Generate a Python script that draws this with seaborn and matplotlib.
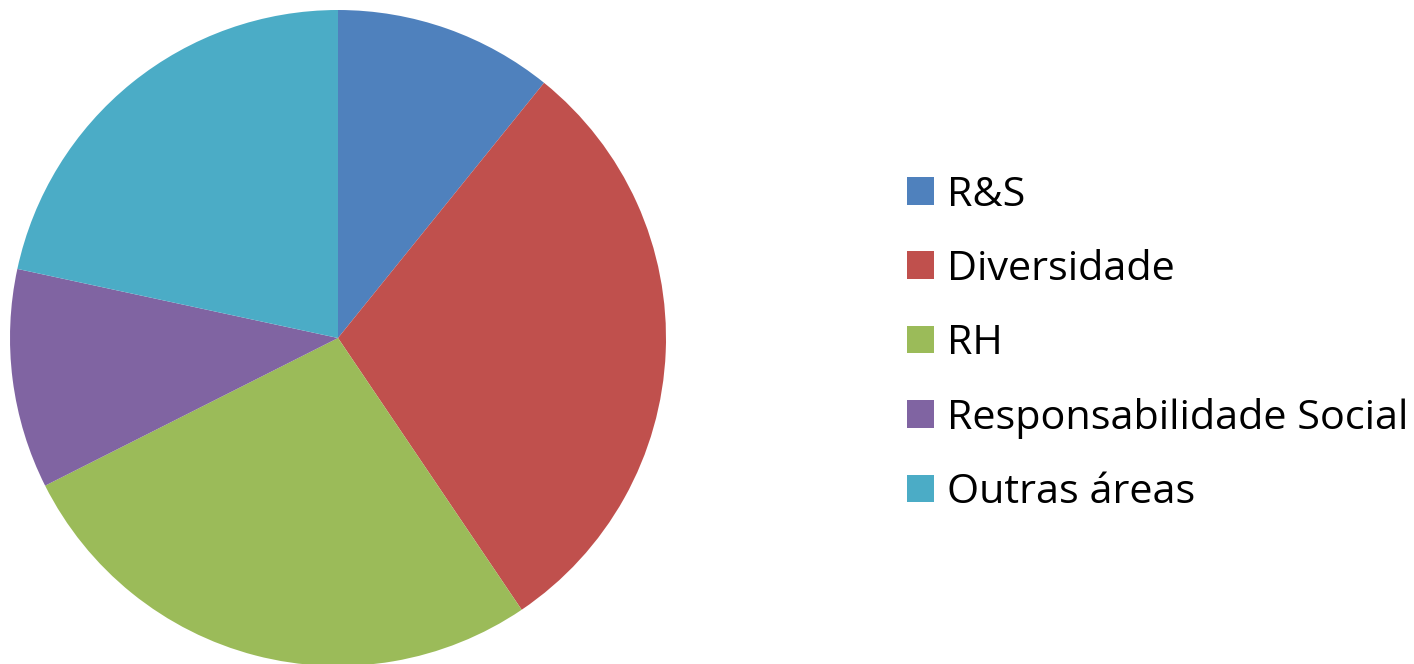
import matplotlib
matplotlib.use("Agg")
import matplotlib.pyplot as plt
import seaborn as sns

categories = ["R&S", "Diversidade", "RH", "Responsabilidade Social", "Outras áreas"]
values = [4, 11, 10, 4, 8]
colors = ["#4F81BD", "#C0504D", "#9BBB59", "#8064A2", "#4BACC6"]

sns.set_theme(style="white")
plt.rcParams["font.family"] = ["Open Sans", "DejaVu Sans"]
plt.rcParams["text.color"] = "black"

W, H = 1414, 664
fig = plt.figure(figsize=(W / 100, H / 100), dpi=100)
cx, cy, r = 338, 338, 328
ax = fig.add_axes([(cx - r) / W, (H - cy - r) / H, 2 * r / W, 2 * r / H])
wedges, _ = ax.pie(values, colors=sns.color_palette(colors), startangle=90,
                   counterclock=False, radius=1,
                   wedgeprops=dict(linewidth=0))
ax.set_xlim(-1, 1)
ax.set_ylim(-1, 1)
ax.set_aspect("equal")
ax.axis("off")

fs = 29.8
fig.legend(wedges, categories, loc="center left",
           bbox_to_anchor=(907 / W, 1 - 344 / H), frameon=False,
           fontsize=fs, handlelength=0.65, handleheight=0.65,
           handletextpad=0.32, labelspacing=0.815, borderpad=0, borderaxespad=0,
           labelcolor="black")

fig.savefig("out.png", dpi=100)
